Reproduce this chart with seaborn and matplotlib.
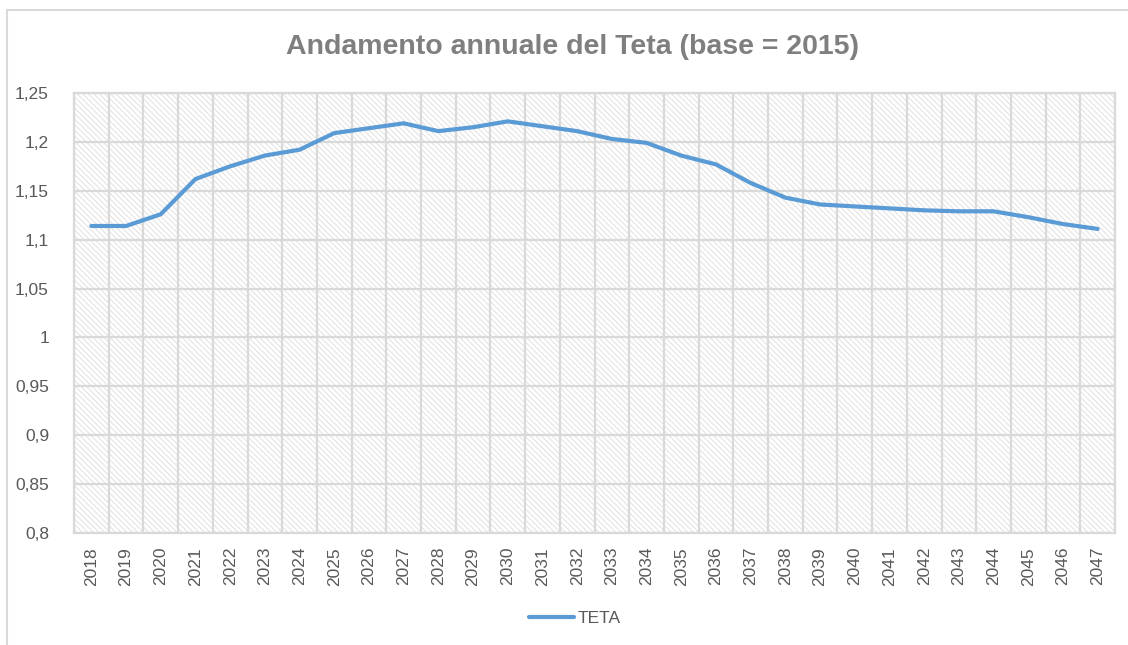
import matplotlib
matplotlib.use("Agg")
import matplotlib.pyplot as plt
import seaborn as sns
import pandas as pd
from matplotlib.patches import Rectangle
from matplotlib.lines import Line2D
from matplotlib.ticker import FixedLocator

years = list(range(2018, 2048))
teta = [1.114, 1.114, 1.126, 1.162, 1.175, 1.186, 1.192, 1.209, 1.214, 1.219,
        1.211, 1.215, 1.221, 1.216, 1.211, 1.203, 1.199, 1.186, 1.177, 1.158,
        1.143, 1.136, 1.134, 1.132, 1.130, 1.129, 1.129, 1.123, 1.116, 1.111]
y_ticks = [0.8, 0.85, 0.9, 0.95, 1.0, 1.05, 1.1, 1.15, 1.2, 1.25]
y_labels = ["0,8", "0,85", "0,9", "0,95", "1", "1,05", "1,1", "1,15", "1,2", "1,25"]
title = "Andamento annuale del Teta (base = 2015)"
series_name = "TETA"

df = pd.DataFrame({"Anno": years, "Valore": teta, "Serie": series_name})

sns.set_theme(style="white")
fam = ["Liberation Sans Narrow", "Liberation Sans", "DejaVu Sans"]
plt.rcParams["font.family"] = fam
plt.rcParams["hatch.linewidth"] = 0.8

fig = plt.figure(figsize=(11.28, 6.45), dpi=100)
ax = fig.add_axes([74/1128, 1-533/645, (1115-74)/1128, (533-93)/645])

grid_c = "#d9d9d9"
ax.add_patch(Rectangle((0, 0), 1, 1, transform=ax.transAxes, facecolor="white",
                       edgecolor="#e4e4e4", hatch="\\\\\\\\\\\\", lw=0, zorder=0))

sns.lineplot(data=df, x="Anno", y="Valore", hue="Serie", palette=["#5B9BD5"],
             linewidth=3.0, ax=ax, zorder=3)

ax.set_xlim(years[0]-0.5, years[-1]+0.5)
ax.set_ylim(y_ticks[0], y_ticks[-1])
ax.set_xticks(years)
ax.set_xticklabels([str(y) for y in years], rotation=90)
ax.xaxis.set_minor_locator(FixedLocator([y - 0.5 for y in years] + [years[-1]+0.5]))
ax.set_yticks(y_ticks)
ax.set_yticklabels(y_labels)
ax.set_xlabel("")
ax.set_ylabel("")
ax.set_facecolor("white")
ax.grid(False)
ax.grid(True, which="minor", axis="x", color=grid_c, lw=1.6, zorder=1)
ax.grid(True, which="major", axis="y", color=grid_c, lw=1.6, zorder=1)
ax.set_axisbelow(True)
for s in ax.spines.values():
    s.set_color(grid_c)
    s.set_linewidth(1.6)
ax.tick_params(axis="both", which="both", length=0, labelsize=12.5, labelcolor="#595959")
ax.tick_params(axis="y", pad=18)
ax.tick_params(axis="x", pad=10)

fig.text(573/1128, 1-47/645, title, ha="center", va="center", fontsize=20.5,
         fontweight="bold", color="#7f7f7f", family=fam)

leg = ax.legend(loc="center", bbox_to_anchor=(575/1128, 1-618/645),
                bbox_transform=fig.transFigure, frameon=False, fontsize=12.5,
                handlelength=2.6, handletextpad=0.2)
for t in leg.get_texts():
    t.set_color("#595959")

fig.add_artist(Line2D([7/1128, 7/1128], [0, 1-10/645], transform=fig.transFigure,
                      color="#d9d9d9", lw=1.5))
fig.add_artist(Line2D([7/1128, 1], [1-10/645, 1-10/645], transform=fig.transFigure,
                      color="#d9d9d9", lw=1.5))

fig.savefig("out.png", dpi=100)
